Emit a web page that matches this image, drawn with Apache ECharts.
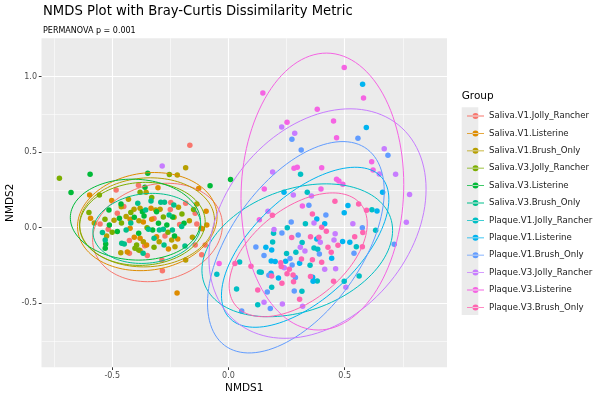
<!DOCTYPE html>
<html lang="en">
<head>
<meta charset="UTF-8">
<title>NMDS Plot</title>
<script src="https://cdn.jsdelivr.net/npm/echarts@6/dist/echarts.min.js"></script>
<style>
  html, body { margin: 0; padding: 0; background: #fff; }
  #main { width: 600px; height: 400px; }
</style>
</head>
<body>
<div id="main"></div>
<script>
var groups = ['Saliva.V1.Jolly_Rancher', 'Saliva.V1.Listerine', 'Saliva.V1.Brush_Only',
  'Saliva.V3.Jolly_Rancher', 'Saliva.V3.Listerine', 'Saliva.V3.Brush_Only',
  'Plaque.V1.Jolly_Rancher', 'Plaque.V1.Listerine', 'Plaque.V1.Brush_Only',
  'Plaque.V3.Jolly_Rancher', 'Plaque.V3.Listerine', 'Plaque.V3.Brush_Only'];
var colors = ['#F8766D', '#DE8C00', '#B79F00', '#7CAE00', '#00BA38', '#00C08B',
  '#00BFC4', '#00B4F0', '#619CFF', '#C77CFF', '#F564E3', '#FF64B0'];

// NMDS1 / NMDS2 scores per group
var salivaV1Jolly = [[-0.166,0.545],[-0.483,0.249],[-0.387,0.280],[-0.248,0.166],[-0.143,0.095],[-0.478,0.095],[-0.552,0.024],[-0.136,0.024],[-0.517,-0.011],[-0.426,-0.086],[-0.273,-0.055],[-0.143,-0.115],[-0.426,-0.170],[-0.349,-0.185],[-0.286,-0.214],[-0.284,-0.285],[-0.115,-0.179],[-0.184,0.161],[-0.100,-0.115],[-0.320,0.060],[-0.210,0.020],[-0.360,-0.120],[-0.450,0.140],[-0.250,0.120]];
var salivaV1Listerine = [[-0.303,0.265],[-0.128,0.260],[-0.597,0.216],[-0.502,0.179],[-0.096,0.108],[-0.333,0.128],[-0.593,0.062],[-0.423,0.055],[-0.366,0.038],[-0.330,0.055],[-0.118,-0.004],[-0.093,0.018],[-0.423,-0.004],[-0.405,-0.064],[-0.380,-0.071],[-0.352,-0.115],[-0.309,-0.060],[-0.218,-0.075],[-0.258,-0.141],[-0.435,-0.161],[-0.380,-0.152],[-0.221,-0.433],[-0.113,-0.007]];
var salivaV1Brush = [[-0.184,0.397],[-0.220,0.349],[-0.430,0.188],[-0.215,0.135],[-0.136,0.157],[-0.461,0.139],[-0.406,0.121],[-0.380,0.128],[-0.313,0.117],[-0.294,0.121],[-0.234,0.068],[-0.577,0.031],[-0.492,0.049],[-0.440,0.073],[-0.385,0.046],[-0.168,0.046],[-0.524,-0.055],[-0.366,-0.093],[-0.244,-0.082],[-0.298,-0.093],[-0.230,-0.126],[-0.155,-0.064],[-0.463,-0.166],[-0.184,-0.214],[-0.354,0.235]];
var salivaV3Jolly = [[-0.727,0.327],[-0.380,0.234],[-0.555,0.216],[-0.531,0.055],[-0.395,-0.115],[-0.402,-0.137],[-0.386,-0.148],[-0.350,0.000],[-0.280,0.070],[-0.460,0.030],[-0.320,-0.130],[-0.200,0.090],[-0.420,0.100],[-0.500,-0.030],[-0.260,-0.030],[-0.150,0.120],[-0.600,0.100],[-0.330,0.200],[-0.254,0.352]];
var salivaV3Listerine = [[-0.595,0.353],[-0.347,0.360],[-0.677,0.232],[-0.079,0.278],[0.009,0.319],[-0.359,0.267],[-0.462,0.157],[-0.514,0.117],[-0.370,0.106],[-0.309,0.106],[-0.512,0.018],[-0.469,0.062],[-0.405,0.068],[-0.363,0.077],[-0.301,0.029],[-0.265,0.018],[-0.191,0.029],[-0.528,-0.108],[-0.530,-0.137],[-0.478,-0.026],[-0.386,-0.038],[-0.326,-0.015],[-0.232,-0.055],[-0.240,0.070]];
var salivaV3Brush = [[-0.390,0.161],[-0.333,0.177],[-0.291,0.168],[-0.275,0.168],[-0.235,0.150],[-0.356,0.117],[-0.255,0.084],[-0.201,0.007],[-0.542,-0.033],[-0.530,-0.082],[-0.440,-0.015],[-0.459,-0.104],[-0.448,-0.108],[-0.344,-0.011],[-0.320,-0.071],[-0.297,-0.015],[-0.280,-0.011],[-0.241,-0.015],[-0.277,-0.115],[-0.187,-0.121],[-0.367,-0.170],[-0.420,0.030]];
var plaqueV1Jolly = [[0.310,0.353],[0.339,0.234],[0.617,0.119],[0.331,0.026],[0.253,0.000],[0.633,-0.018],[0.194,-0.038],[0.190,-0.095],[0.317,-0.099],[0.368,-0.135],[0.384,-0.143],[0.550,-0.126],[0.250,-0.172],[0.290,-0.163],[0.351,-0.249],[0.133,-0.294],[0.141,-0.296],[0.048,-0.227],[-0.050,-0.309],[0.186,-0.395],[0.126,-0.510],[0.316,-0.422],[0.382,-0.353],[0.498,-0.355],[0.562,-0.320],[0.035,-0.406]];
var plaqueV1Listerine = [[0.577,0.949],[0.593,0.664],[0.239,0.234],[0.663,0.234],[0.514,0.146],[0.639,0.110],[0.498,0.099],[0.380,0.057],[0.414,0.026],[0.380,-0.075],[0.522,-0.097],[0.491,-0.091],[0.161,-0.130],[0.186,-0.148],[0.444,-0.203],[0.184,-0.221],[0.201,-0.225],[0.246,-0.223],[0.306,-0.236],[0.183,-0.302],[0.215,-0.333],[0.362,-0.329],[0.364,-0.355]];
var plaqueV1Brush = [[0.273,0.585],[0.557,0.592],[0.313,0.514],[0.686,0.479],[0.346,0.148],[0.419,0.084],[0.270,0.038],[0.576,0.000],[0.230,-0.035],[0.300,-0.049],[0.713,-0.110],[0.118,-0.128],[0.540,-0.170],[0.391,-0.174],[0.153,-0.185],[0.265,-0.205],[0.274,-0.247],[0.288,-0.331],[0.174,-0.316],[0.167,-0.426],[0.180,-0.536],[0.283,-0.419],[0.057,-0.552]];
var plaqueV3Jolly = [[-0.285,0.408],[0.229,0.667],[0.285,0.625],[0.670,0.523],[0.190,0.369],[0.649,0.355],[0.719,0.353],[0.279,0.216],[0.357,0.210],[0.779,0.219],[0.170,0.108],[0.368,0.031],[0.535,0.026],[0.196,-0.013],[0.459,-0.040],[0.454,-0.082],[0.395,-0.097],[0.309,-0.130],[0.329,-0.155],[0.240,-0.265],[0.414,-0.276],[0.461,-0.272],[0.505,-0.395],[0.153,-0.494],[0.232,-0.505],[0.319,-0.521],[0.765,0.035]];
var plaqueV3Listerine = [[0.498,1.060],[0.581,0.859],[0.148,0.892],[0.382,0.784],[0.452,0.706],[0.252,0.698],[0.465,0.596],[0.282,0.393],[0.296,0.400],[0.401,0.397],[0.616,0.437],[0.622,0.382],[0.465,0.320],[0.475,0.309],[0.492,0.287],[0.154,0.256],[0.398,0.256],[0.133,0.053],[-0.040,-0.238],[0.318,0.143]];
var plaqueV3Brush = [[0.458,0.174],[0.560,0.157],[0.594,0.115],[0.189,0.082],[0.361,0.091],[0.401,0.002],[0.421,-0.024],[0.578,-0.033],[0.272,-0.066],[0.353,-0.060],[0.389,-0.064],[0.543,-0.060],[0.471,-0.117],[0.428,-0.130],[0.442,-0.163],[0.576,-0.126],[0.225,-0.232],[0.227,-0.258],[0.314,-0.207],[0.361,-0.212],[0.401,-0.229],[0.262,-0.276],[0.252,-0.305],[0.278,-0.313],[0.280,-0.358],[0.097,-0.256],[0.028,-0.238],[0.186,-0.320],[0.230,-0.369],[0.126,-0.413],[0.306,-0.475],[0.353,-0.324],[0.452,-0.355]];

var groupPoints = [salivaV1Jolly, salivaV1Listerine, salivaV1Brush, salivaV3Jolly,
  salivaV3Listerine, salivaV3Brush, plaqueV1Jolly, plaqueV1Listerine, plaqueV1Brush,
  plaqueV3Jolly, plaqueV3Listerine, plaqueV3Brush];

// 95% ellipses: centre, half width, half height, correlation
var ellCx = [-0.305, -0.349, -0.350, -0.370, -0.400, -0.351, 0.296, 0.330, 0.290, 0.383, 0.404, 0.300];
var ellCy = [-0.032, 0.040, 0.035, 0.025, 0.053, -0.005, -0.150, -0.130, -0.130, 0.027, 0.239, -0.180];
var ellW = [0.279, 0.300, 0.290, 0.270, 0.280, 0.232, 0.410, 0.360, 0.380, 0.467, 0.350, 0.297];
var ellH = [0.326, 0.325, 0.295, 0.275, 0.268, 0.232, 0.440, 0.530, 0.700, 0.760, 0.917, 0.410];
var ellR = [0.15, 0.10, 0.05, 0.05, -0.05, 0.10, 0.30, 0.60, 0.53, 0.30, 0.05, 0.50];

var xMajor = [-0.5, 0, 0.5];
var xMinor = [-0.75, -0.25, 0.25, 0.75];
var yMajor = [-0.5, 0, 0.5, 1.0];
var yMinor = [-0.75, -0.25, 0.25, 0.75];

var FONT = 'DejaVu Sans';

function ellipse(i) {
  var pts = [];
  var psi = Math.acos(ellR[i]);
  for (var k = 0; k <= 120; k++) {
    var t = 2 * Math.PI * k / 120;
    pts.push([ellCx[i] + ellW[i] * Math.cos(t), ellCy[i] + ellH[i] * Math.cos(t - psi)]);
  }
  return pts;
}

var series = [];
groups.forEach(function (g, i) {
  series.push({
    name: g, type: 'scatter', xAxisIndex: 0, yAxisIndex: 0,
    data: groupPoints[i], symbolSize: 5.5, z: 3,
    itemStyle: { color: colors[i], opacity: 1 }
  });
});
groups.forEach(function (g, i) {
  series.push({
    name: g, type: 'line', xAxisIndex: 0, yAxisIndex: 0,
    data: ellipse(i), showSymbol: false, smooth: false, z: 4,
    lineStyle: { color: colors[i], width: 1 }, itemStyle: { color: colors[i] }
  });
});

var keyIcon = 'path://M0,2.6h17v0.8h-17z M5.5,3a3,3 0 1,0 6,0a3,3 0 1,0 -6,0z';

var xMin = -0.804, xMax = 0.94, yMin = -0.925, yMax = 1.254;

function fmt(v) { return v.toFixed(1); }

var myChart = echarts.init(document.getElementById('main'));
var option = {
  animation: false,
  backgroundColor: '#fff',
  textStyle: { fontFamily: FONT },
  title: {
    text: 'NMDS Plot with Bray-Curtis Dissimilarity Metric',
    subtext: 'PERMANOVA p = 0.001',
    left: 38, top: 0, itemGap: 9,
    textStyle: { fontFamily: FONT, fontSize: 13.2, fontWeight: 'normal', color: '#000' },
    subtextStyle: { fontFamily: FONT, fontSize: 8, color: '#000' }
  },
  grid: [{ left: 41.5, right: 153, top: 38.3, bottom: 32.7, show: true,
    containLabel: false, outerBoundsMode: 'none',
    backgroundColor: '#EBEBEB', borderWidth: 0 }],
  xAxis: [{
    type: 'value', min: xMin, max: xMax, gridIndex: 0, position: 'bottom',
    name: 'NMDS1', nameLocation: 'middle', nameGap: 15.5, nameMoveOverlap: false,
    nameTextStyle: { fontFamily: FONT, fontSize: 10.5, color: '#000' },
    axisLine: { show: false, onZero: false },
    axisTick: { show: true, length: 2.7, customValues: xMajor, lineStyle: { color: '#333', width: 1 } },
    axisLabel: { customValues: xMajor, formatter: fmt, margin: 4.5, color: '#4D4D4D',
      fontFamily: FONT, fontSize: 8 },
    splitLine: { show: true, lineStyle: { color: '#fff', width: 1.1 } }
  }, {
    type: 'value', min: xMin, max: xMax, gridIndex: 0, position: 'bottom',
    axisLine: { show: false, onZero: false },
    axisTick: { show: false, customValues: xMinor },
    axisLabel: { show: false },
    splitLine: { show: true, lineStyle: { color: '#fff', width: 0.55 } }
  }],
  yAxis: [{
    type: 'value', min: yMin, max: yMax, gridIndex: 0, position: 'left',
    name: 'NMDS2', nameLocation: 'middle', nameGap: 26, nameMoveOverlap: false,
    nameTextStyle: { fontFamily: FONT, fontSize: 10.5, color: '#000' },
    axisLine: { show: false, onZero: false },
    axisTick: { show: true, length: 2.7, customValues: yMajor, lineStyle: { color: '#333', width: 1 } },
    axisLabel: { customValues: yMajor, formatter: fmt, margin: 4.5, color: '#4D4D4D',
      fontFamily: FONT, fontSize: 8 },
    splitLine: { show: true, lineStyle: { color: '#fff', width: 1.1 } }
  }, {
    type: 'value', min: yMin, max: yMax, gridIndex: 0, position: 'left',
    axisLine: { show: false, onZero: false },
    axisTick: { show: false, customValues: yMinor },
    axisLabel: { show: false },
    splitLine: { show: true, lineStyle: { color: '#fff', width: 0.55 } }
  }],
  legend: {
    orient: 'vertical', left: 462, top: 106,
    itemWidth: 17, itemHeight: 6, itemGap: 7.4,
    textStyle: { fontFamily: FONT, fontSize: 8.6, color: '#1A1A1A', lineHeight: 10 },
    data: groups.map(function (g) { return { name: g, icon: keyIcon }; })
  },
  graphic: [
    { type: 'rect', left: 461.7, top: 107.3, z: -1,
      shape: { width: 16.6, height: 207.7 }, style: { fill: '#EBEBEB' } },
    { type: 'text', left: 461.7, top: 91,
      style: { text: 'Group', font: '10.5px "DejaVu Sans"', fill: '#000' } }
  ],
  series: series
};
myChart.setOption(option);
</script>
</body>
</html>
